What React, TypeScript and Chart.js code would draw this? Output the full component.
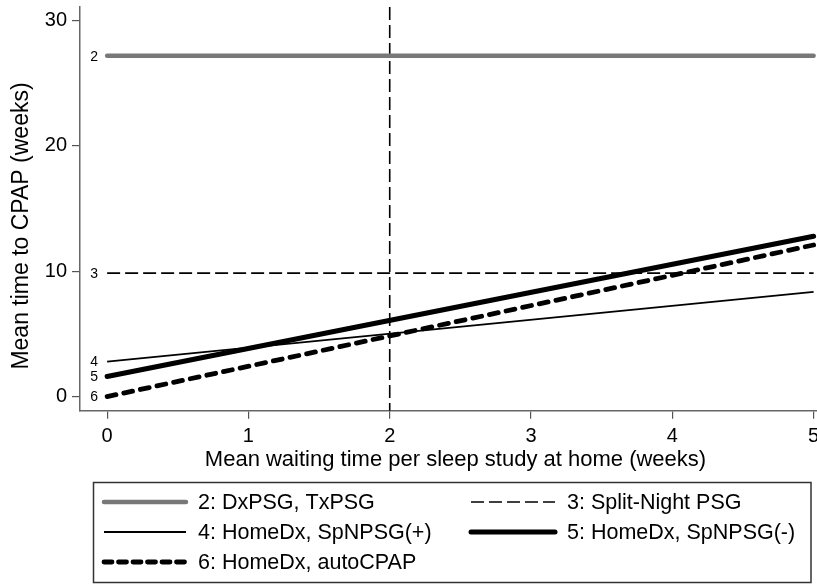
import React, { useEffect, useRef } from "react";
import { Chart, registerables } from "chart.js";

Chart.register(...registerables);

const xValues = [0, 5];
const series2 = [27.2, 27.2];
const series3 = [9.85, 9.85];
const series4 = [2.79, 8.35];
const series5 = [1.6, 12.8];
const series6 = [0, 12.1];
const refX = 2;
const xTicks = [0, 1, 2, 3, 4, 5];
const yTicks = [0, 10, 20, 30];
const seriesIds = ["2", "3", "4", "5", "6"];
const legendLabels = [
  "2: DxPSG, TxPSG",
  "3: Split-Night PSG",
  "4: HomeDx, SpNPSG(+)",
  "5: HomeDx, SpNPSG(-)",
  "6: HomeDx, autoCPAP",
];
const xTitle = "Mean waiting time per sleep study at home (weeks)";
const yTitle = "Mean time to CPAP (weeks)";

const FONT = "'Liberation Sans', Arial, sans-serif";

const styles = [
  { color: "#787878", width: 4.5, dash: [] as number[], cap: "round" as CanvasLineCap },
  { color: "#000000", width: 1.6, dash: [13, 5], cap: "butt" as CanvasLineCap },
  { color: "#000000", width: 1.8, dash: [] as number[], cap: "butt" as CanvasLineCap },
  { color: "#000000", width: 5, dash: [] as number[], cap: "round" as CanvasLineCap },
  { color: "#000000", width: 4.8, dash: [9, 8], cap: "round" as CanvasLineCap },
];

const allSeries = [series2, series3, series4, series5, series6];

export default function App() {
  const ref = useRef<HTMLCanvasElement>(null);
  useEffect(() => {
    if (!ref.current) return;
    const datasets = allSeries.map((s, i) => ({
      label: legendLabels[i],
      data: xValues.map((x, j) => ({ x, y: s[j] })),
      borderColor: styles[i].color,
      borderWidth: styles[i].width,
      borderDash: styles[i].dash,
      borderCapStyle: styles[i].cap,
      pointRadius: 0,
      fill: false,
      tension: 0,
    }));

    const overlay = {
      id: "overlay",
      beforeDatasetsDraw(chart: any) {
        const { ctx, chartArea, scales } = chart;
        const x = scales.x.getPixelForValue(refX);
        ctx.save();
        ctx.strokeStyle = "#000";
        ctx.lineWidth = 1.6;
        ctx.setLineDash([13, 5]);
        ctx.beginPath();
        ctx.moveTo(x, chartArea.top);
        ctx.lineTo(x, chartArea.bottom);
        ctx.stroke();
        ctx.restore();
      },
      afterDraw(chart: any) {
        const { ctx, scales, chartArea } = chart;
        ctx.save();
        ctx.fillStyle = "#000";
        // series id labels
        ctx.font = `14px ${FONT}`;
        ctx.textAlign = "center";
        ctx.textBaseline = "middle";
        const x0 = scales.x.getPixelForValue(xValues[0]) - 13;
        allSeries.forEach((s, i) => {
          ctx.fillText(seriesIds[i], x0, scales.y.getPixelForValue(s[0]) + 1);
        });
        // axis titles
        ctx.font = `22px ${FONT}`;
        ctx.textAlign = "center";
        ctx.textBaseline = "alphabetic";
        ctx.fillText(xTitle, (chartArea.left + chartArea.right) / 2 + 7, 466);
        ctx.save();
        ctx.translate(28, 226);
        ctx.rotate(-Math.PI / 2);
        ctx.font = `23px ${FONT}`;
        ctx.fillText(yTitle, 0, 0);
        ctx.restore();
        // legend
        const L = 93.5, T = 482.5, R = 811, B = 582.5;
        ctx.strokeStyle = "#333";
        ctx.lineWidth = 1.5;
        ctx.setLineDash([]);
        ctx.strokeRect(L, T, R - L, B - T);
        const rows = [502, 532, 562];
        const cols = [
          { s: 104, e: 186, t: 198 },
          { s: 471, e: 555, t: 567 },
        ];
        ctx.font = `21.5px ${FONT}`;
        ctx.textAlign = "left";
        ctx.textBaseline = "middle";
        legendLabels.forEach((lab, i) => {
          const c = cols[i % 2];
          const y = rows[Math.floor(i / 2)];
          const st = styles[i];
          ctx.save();
          ctx.strokeStyle = st.color;
          ctx.lineWidth = st.width;
          ctx.setLineDash(i === 4 ? [8, 6.5] : st.dash);
          ctx.lineCap = st.cap;
          ctx.beginPath();
          ctx.moveTo(c.s, y);
          ctx.lineTo(c.e, y);
          ctx.stroke();
          ctx.restore();
          ctx.fillText(lab, c.t, y + 1);
        });
        ctx.restore();
      },
    };

    const chart = new Chart(ref.current, {
      type: "line",
      data: { datasets },
      plugins: [overlay],
      options: {
        animation: false,
        responsive: false,
        maintainAspectRatio: false,
        layout: { padding: { top: 7, right: 0, left: 0, bottom: 0 } },
        plugins: { legend: { display: false }, tooltip: { enabled: false } },
        scales: {
          x: {
            type: "linear",
            min: -0.192,
            max: 5.024,
            afterBuildTicks: (s: any) => {
              s.ticks = xTicks.map((v) => ({ value: v }));
            },
            afterFit: (s: any) => {
              s.height = 173.3;
              s.paddingLeft = 0;
              s.paddingRight = 0;
            },
            grid: { display: true, drawOnChartArea: false, drawTicks: true, tickLength: 8, color: "#555", lineWidth: 1.2 },
            border: { display: true, color: "#666", width: 1.5 },
            ticks: { color: "#000", padding: 6, font: { family: FONT, size: 20 }, maxRotation: 0, autoSkip: false },
            title: { display: false },
          },
          y: {
            type: "linear",
            min: -1.125,
            max: 31.09,
            afterBuildTicks: (s: any) => {
              s.ticks = yTicks.map((v) => ({ value: v }));
            },
            afterFit: (s: any) => {
              s.width = 80;
              s.paddingTop = 0;
              s.paddingBottom = 0;
            },
            grid: { display: true, drawOnChartArea: false, drawTicks: true, tickLength: 8, color: "#555", lineWidth: 1.2 },
            border: { display: true, color: "#666", width: 1.5 },
            ticks: { color: "#000", padding: 5, font: { family: FONT, size: 20 }, autoSkip: false },
            title: { display: false },
          },
        },
      },
    });
    return () => chart.destroy();
  }, []);
  return (
    <div style={{ position: "absolute", left: 0, top: 0, width: 817, height: 584, background: "#fff" }}>
      <canvas ref={ref} width={817} height={584} style={{ display: "block" }} />
    </div>
  );
}
